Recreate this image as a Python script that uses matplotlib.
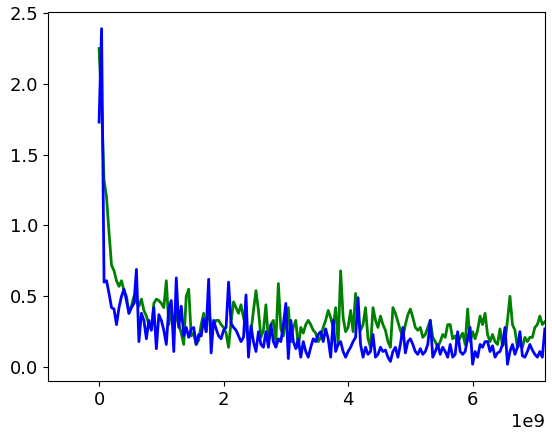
import numpy as np
import matplotlib
matplotlib.use("Agg")
import matplotlib.pyplot as plt

# Loss curves (x in tokens, step 0.04e9)
step = 0.04e9

green_loss = [
    2.25, 1.85, 1.32, 1.20, 0.95, 0.72, 0.68, 0.61, 0.57, 0.61,
    0.54, 0.50, 0.38, 0.43, 0.50, 0.46, 0.43, 0.48, 0.40, 0.36,
    0.30, 0.27, 0.45, 0.48, 0.47, 0.45, 0.42, 0.61, 0.30, 0.40,
    0.26, 0.38, 0.30, 0.24, 0.16, 0.50, 0.55, 0.22, 0.24, 0.16,
    0.19, 0.30, 0.38, 0.25, 0.42, 0.28, 0.30, 0.33, 0.33, 0.30,
    0.28, 0.24, 0.14, 0.32, 0.46, 0.42, 0.38, 0.44, 0.35, 0.28,
    0.18, 0.25, 0.40, 0.54, 0.40, 0.21, 0.26, 0.44, 0.18, 0.30,
    0.33, 0.18, 0.59, 0.27, 0.22, 0.33, 0.42, 0.18, 0.28, 0.33,
    0.14, 0.28, 0.24, 0.30, 0.33, 0.30, 0.26, 0.24, 0.18, 0.21,
    0.28, 0.33, 0.40, 0.35, 0.28, 0.42, 0.16, 0.68, 0.35, 0.25,
    0.28, 0.40, 0.25, 0.52, 0.35, 0.26, 0.30, 0.42, 0.20, 0.14,
    0.42, 0.33, 0.28, 0.36, 0.30, 0.26, 0.18, 0.14, 0.42, 0.38,
    0.32, 0.26, 0.21, 0.30, 0.37, 0.41, 0.35, 0.28, 0.26, 0.28,
    0.21, 0.23, 0.28, 0.33, 0.21, 0.18, 0.14, 0.18, 0.23, 0.21,
    0.30, 0.30, 0.20, 0.22, 0.17, 0.21, 0.24, 0.16, 0.41, 0.18,
    0.25, 0.20, 0.26, 0.36, 0.30, 0.38, 0.23, 0.18, 0.23, 0.18,
    0.16, 0.27, 0.15, 0.18, 0.33, 0.50, 0.30, 0.26, 0.14, 0.16,
    0.14, 0.21, 0.18, 0.21, 0.21, 0.28, 0.30, 0.36, 0.30, 0.32,
]

blue_loss = [
    1.73, 2.39, 0.60, 0.61, 0.52, 0.42, 0.41, 0.30, 0.42, 0.50,
    0.55, 0.47, 0.38, 0.42, 0.45, 0.69, 0.18, 0.38, 0.33, 0.20,
    0.33, 0.26, 0.42, 0.13, 0.37, 0.33, 0.26, 0.16, 0.42, 0.47,
    0.11, 0.63, 0.28, 0.43, 0.22, 0.28, 0.21, 0.27, 0.28, 0.16,
    0.23, 0.22, 0.34, 0.25, 0.62, 0.10, 0.33, 0.27, 0.22, 0.20,
    0.26, 0.28, 0.60, 0.31, 0.28, 0.26, 0.22, 0.18, 0.21, 0.51,
    0.07, 0.29, 0.18, 0.11, 0.25, 0.16, 0.14, 0.25, 0.14, 0.30,
    0.18, 0.14, 0.20, 0.18, 0.30, 0.45, 0.06, 0.33, 0.18, 0.13,
    0.20, 0.07, 0.18, 0.11, 0.07, 0.14, 0.20, 0.18, 0.23, 0.25,
    0.18, 0.27, 0.20, 0.07, 0.33, 0.11, 0.16, 0.18, 0.11, 0.07,
    0.11, 0.14, 0.18, 0.21, 0.49, 0.16, 0.07, 0.14, 0.09, 0.11,
    0.23, 0.07, 0.09, 0.14, 0.11, 0.12, 0.07, 0.04, 0.11, 0.14,
    0.07, 0.16, 0.28, 0.10, 0.18, 0.20, 0.16, 0.11, 0.09, 0.13,
    0.09, 0.11, 0.16, 0.33, 0.07, 0.11, 0.16, 0.09, 0.14, 0.11,
    0.07, 0.16, 0.07, 0.09, 0.25, 0.11, 0.09, 0.11, 0.20, 0.28,
    0.02, 0.11, 0.07, 0.16, 0.14, 0.18, 0.18, 0.11, 0.15, 0.07,
    0.10, 0.11, 0.16, 0.28, 0.02, 0.11, 0.16, 0.09, 0.14, 0.25,
    0.08, 0.07, 0.11, 0.16, 0.12, 0.09, 0.07, 0.11, 0.07, 0.27,
]

tokens = np.arange(len(green_loss)) * step

plt.rcParams['font.size'] = 13
fig, ax = plt.subplots(figsize=(5.52, 4.4), dpi=100)
fig.subplots_adjust(left=0.087, right=0.987, top=0.973, bottom=0.134)

ax.plot(tokens, green_loss, color='green', linewidth=2)
ax.plot(tokens, blue_loss, color='blue', linewidth=2)
ax.set_xlim(-0.82e9, 7.16e9)
ax.set_xticks([0, 2e9, 4e9, 6e9])
ax.set_yticks([0.0, 0.5, 1.0, 1.5, 2.0, 2.5])

fig.savefig('out.png', dpi=100)
